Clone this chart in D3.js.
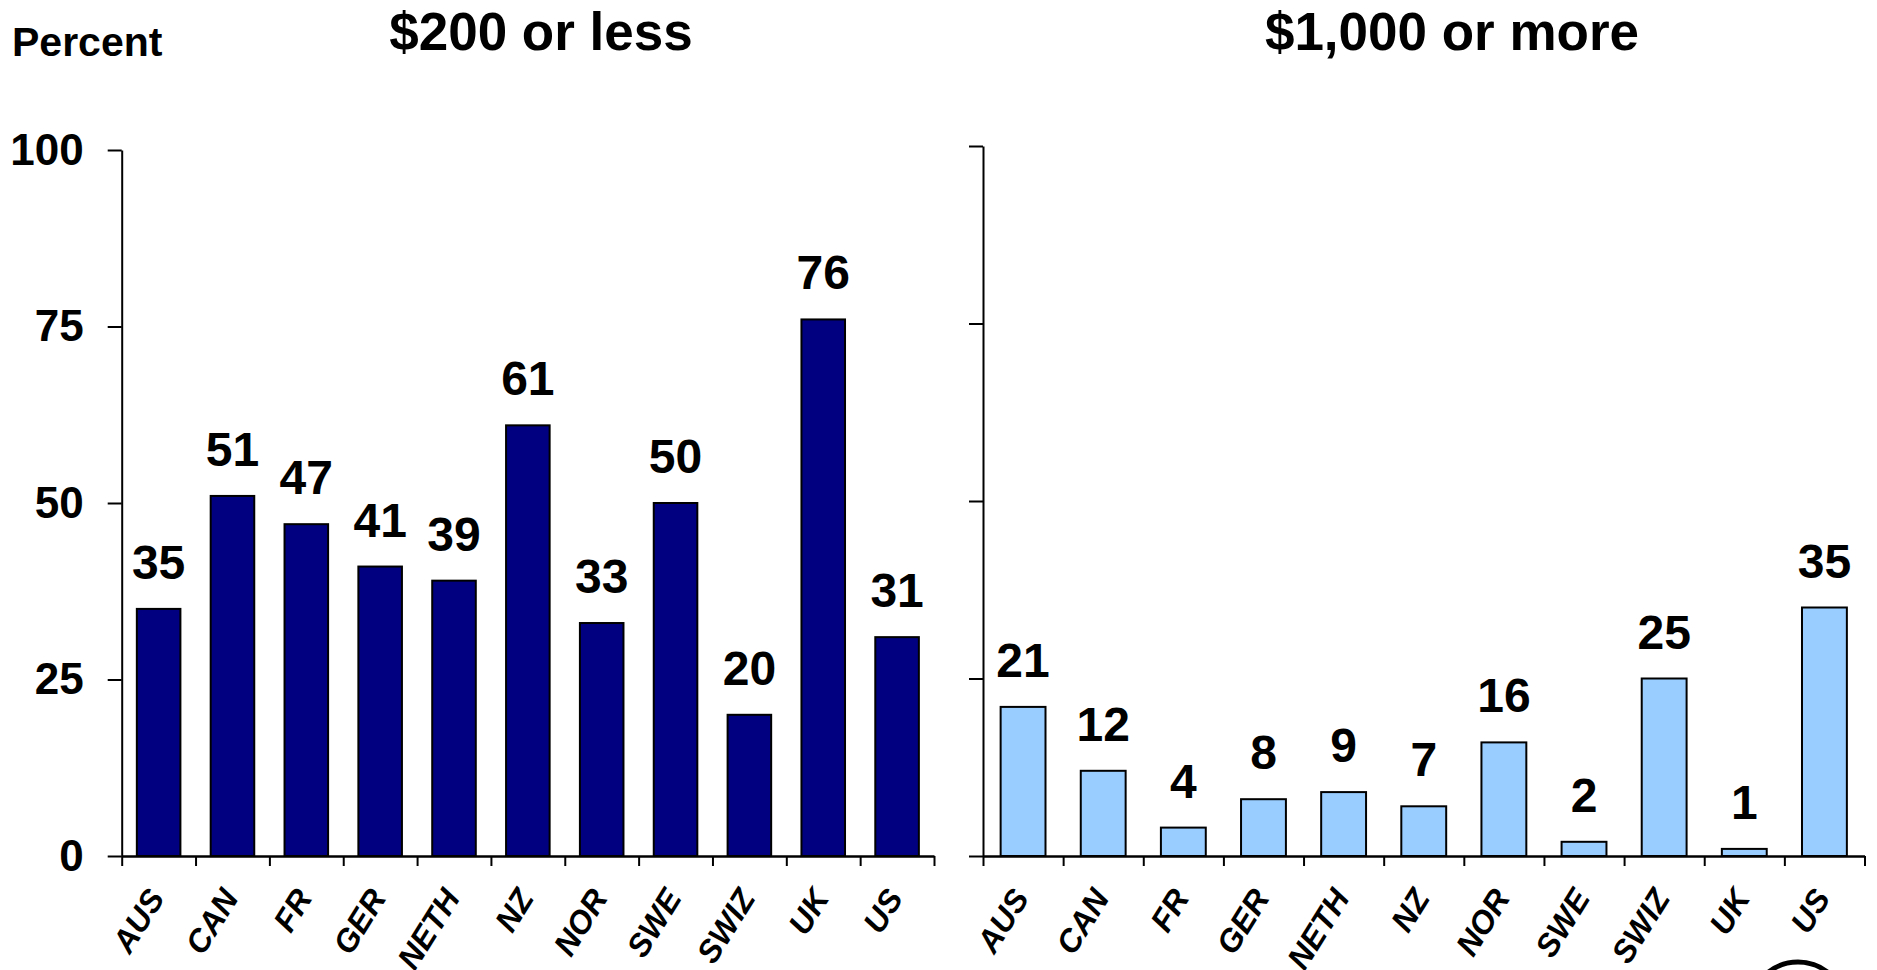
<!DOCTYPE html>
<html>
<head>
<meta charset="utf-8">
<script src="https://cdn.jsdelivr.net/npm/d3@7/dist/d3.min.js"></script>
<style>
  html, body { margin: 0; padding: 0; background: #fff; }
  svg { display: block; font-family: "Liberation Sans", Arial, sans-serif; }
</style>
</head>
<body>
<svg id="chart" width="1877" height="970"></svg>
<script>
const categories = ["AUS", "CAN", "FR", "GER", "NETH", "NZ", "NOR", "SWE", "SWIZ", "UK", "US"];
const lowCostValues = [35, 51, 47, 41, 39, 61, 33, 50, 20, 76, 31];
const highCostValues = [21, 12, 4, 8, 9, 7, 16, 2, 25, 1, 35];
const yTicks = [0, 25, 50, 75, 100];
const panelTitles = ["$200 or less", "$1,000 or more"];
const yAxisLabel = "Percent";

const svg = d3.select("#chart");

svg.append("text").attr("x", 12).attr("y", 56).attr("font-size", 41).attr("font-weight", "bold").text(yAxisLabel);

const panels = [
  { values: lowCostValues, title: panelTitles[0], titleX: 541, xr: [121.7, 934], yr: [856, 150], pad: 0.41, fill: "#000080", showLabels: true },
  { values: highCostValues, title: panelTitles[1], titleX: 1452, xr: [983, 1864.5], yr: [856, 146], pad: 0.44, fill: "#99CCFF", showLabels: false }
];

panels.forEach(p => {
  const g = svg.append("g");
  const x = d3.scaleBand().domain(categories).range(p.xr).paddingInner(p.pad).paddingOuter(p.pad / 2);
  const xi = d3.scaleLinear().domain([0, categories.length]).range(p.xr);
  const y = d3.scaleLinear().domain([0, 100]).range(p.yr);

  g.append("text").attr("x", p.titleX).attr("y", 50).attr("text-anchor", "middle")
    .attr("font-size", 53).attr("font-weight", "bold").text(p.title);

  // bars
  g.selectAll("rect.bar").data(p.values).join("rect")
    .attr("class", "bar")
    .attr("x", (d, i) => x(categories[i]))
    .attr("width", x.bandwidth())
    .attr("y", d => y(d))
    .attr("height", d => y(0) - y(d))
    .attr("fill", p.fill).attr("stroke", "#000").attr("stroke-width", 2);

  // value labels
  g.selectAll("text.val").data(p.values).join("text")
    .attr("class", "val")
    .attr("x", (d, i) => x(categories[i]) + x.bandwidth() / 2)
    .attr("y", d => y(d) - 30)
    .attr("text-anchor", "middle").attr("font-size", 48).attr("font-weight", "bold")
    .text(d => d);

  // y axis
  const yAxis = d3.axisLeft(y).tickValues(yTicks).tickSize(14).tickPadding(24).tickSizeOuter(0);
  if (!p.showLabels) yAxis.tickFormat("");
  const ya = g.append("g").attr("transform", `translate(${p.xr[0]},0)`).call(yAxis);
  ya.selectAll("text").attr("font-size", 44).attr("font-weight", "bold").attr("fill", "#000")
    .attr("font-family", "'Liberation Sans', Arial, sans-serif");
  ya.selectAll("line").attr("stroke", "#000").attr("stroke-width", 2);
  ya.select(".domain").attr("stroke", "#000").attr("stroke-width", 2);

  // x axis (boundary ticks)
  const xAxis = d3.axisBottom(xi).tickValues(d3.range(categories.length + 1)).tickFormat("").tickSize(10).tickSizeOuter(0);
  const xa = g.append("g").attr("transform", `translate(0,${y(0)})`).call(xAxis);
  xa.selectAll("line").attr("stroke", "#000").attr("stroke-width", 2);
  xa.select(".domain").attr("stroke", "#000").attr("stroke-width", 2.5);

  // category labels
  g.selectAll("text.cat").data(categories).join("text")
    .attr("class", "cat")
    .attr("transform", d => `translate(${x(d) + x.bandwidth() / 2 + 7},${y(0) + 42}) rotate(-58)`)
    .attr("text-anchor", "end").attr("font-size", 32).attr("font-weight", "bold").attr("font-style", "italic")
    .text(d => d);
});

// partial logo circle at bottom right
svg.append("circle").attr("cx", 1798).attr("cy", 1010).attr("r", 48)
  .attr("fill", "none").attr("stroke", "#000").attr("stroke-width", 5);
</script>
</body>
</html>
